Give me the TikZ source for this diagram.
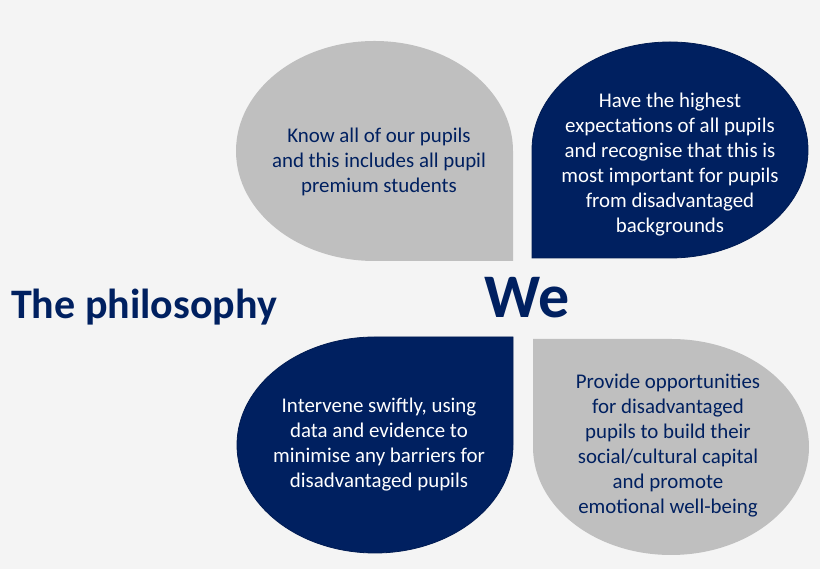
\documentclass[tikz,border=0pt]{standalone}
\usepackage{fontspec}
\setmainfont{Carlito}
\definecolor{navy}{HTML}{002060}
\definecolor{petal}{HTML}{BFBFBF}
\definecolor{paper}{HTML}{F4F4F4}
\tikzset{
  leaf/.style={align=center,inner sep=0pt,font=\fontsize{20.9}{25}\selectfont},
  onnavy/.style={fill=navy,draw=navy!85!black,line width=0.8pt},
}
\begin{document}
\begin{tikzpicture}[x=1pt,y=1pt]
  \fill[paper] (0,0) rectangle (820,569);
  \useasboundingbox (0,0) rectangle (820,569);
  % corners of the petals that meet in the middle
  \coordinate (TL) at (513,308);\coordinate (TR) at (532,311);
  \coordinate (BL) at (513,232);\coordinate (BR) at (533,230);
  \fill[petal] (TL) -- ++(0,110) arc[start angle=0,end angle=270,x radius=138.5,y radius=110] -- cycle;
  \draw[onnavy] (TR) -- ++(138,0) arc[start angle=-90,end angle=180,x radius=138,y radius=108] -- cycle;
  \draw[onnavy] (BL) -- ++(-138,0) arc[start angle=90,end angle=360,x radius=138,y radius=108] -- cycle;
  \fill[petal] (BR) -- ++(0,-108) arc[start angle=180,end angle=450,x radius=138,y radius=108] -- cycle;
  % texts
  \node[leaf,text=navy] (know) at (379,407) {Know all of our pupils\\and this includes all pupil\\premium students};
  \node[leaf,text=white] (expect) at (670,404) {Have the highest\\expectations of all pupils\\and recognise that this is\\most important for pupils\\from disadvantaged\\backgrounds};
  \node[leaf,text=white] (swift) at (379,124) {Intervene swiftly, using\\data and evidence to\\minimise any barriers for\\disadvantaged pupils};
  \node[leaf,text=navy] (provide) at (668,123) {Provide opportunities\\for disadvantaged\\pupils to build their\\social/cultural capital\\and promote\\emotional well-being};
  \node[anchor=base west,inner sep=0pt,text=navy,font=\bfseries\fontsize{42}{50}\selectfont] (title) at (11,250) {The philosophy};
  \node[anchor=base,inner sep=0pt,text=navy,font=\bfseries\fontsize{62}{70}\selectfont] (we) at (527,251) {We};
\end{tikzpicture}
\end{document}
